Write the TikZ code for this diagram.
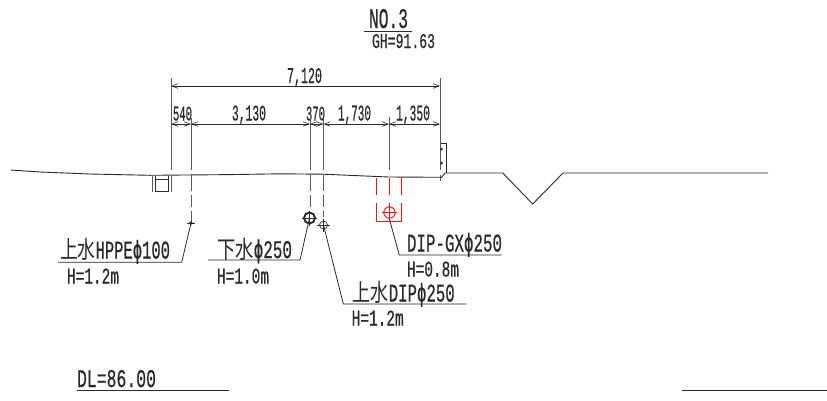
\documentclass[tikz,border=0pt]{standalone}
\usepackage{fontspec}
\setmainfont[FakeBold=0.6]{Liberation Mono}
\newfontfamily\cjkjp{Noto Sans CJK JP}
\newfontfamily\phifont[FakeBold=0.6]{DejaVu Sans Mono}
\usetikzlibrary{arrows.meta}
\newcommand\cad[3]{\resizebox{#1pt}{#2pt}{#3}}
\newcommand\cj[1]{\smash{\scalebox{1.15}[0.95]{\cjkjp #1}}}
\newcommand\ph{\smash{\phifont ϕ}}
\definecolor{ink}{HTML}{2A2A2A}
\definecolor{ext}{HTML}{5A5A5A}
\definecolor{cadred}{HTML}{FF1010}
\tikzset{
  lbl/.style={inner sep=0pt,outer sep=0pt,anchor=base west,text=ink},
  dimline/.style={draw=ink,line width=0.6pt,{Straight Barb[length=6pt,width=4.5pt]}-{Straight Barb[length=6pt,width=4.5pt]}},
  extline/.style={draw=ext,line width=0.9pt},
  ground/.style={draw=ink,line width=0.9pt},
  leader/.style={draw=ink,line width=0.8pt},
  dashpipe/.style={draw=ext,line width=0.9pt,dash pattern=on 16pt off 4pt on 12pt off 4pt on 12pt off 4pt},
  reddash/.style={draw=cadred,line width=1pt},
  pipe/.style={draw=ink,line width=0.7pt},
}
\begin{document}
\begin{tikzpicture}[x=1pt,y=-1pt]
\useasboundingbox (0,0) rectangle (827,400);
\fill[white] (0,0) rectangle (827,400);

% titles
\node[lbl] (no3) at (369,28) {\cad{39}{19}{NO.3}};
\coordinate (noa) at (364,31); \coordinate (nob) at (412,31);
\draw[leader] (noa) -- (nob);
\node[lbl] (gh) at (372,48) {\cad{63}{14}{GH=91.63}};

% dimension anchors
\coordinate (e0) at (171,86);
\coordinate (e5) at (440,86);
\coordinate (a0) at (171,124);
\coordinate (a1) at (191,124);
\coordinate (a2) at (310,124);
\coordinate (a3) at (323.5,124);
\coordinate (a4) at (389,124);
\coordinate (a5) at (440,124);

\draw[dimline] (e0) -- (e5);
\draw[dimline] (a0) -- (a1);
\draw[dimline] (a1) -- (a2);
\draw[dimline] (a2) -- (a3);
\draw[dimline] (a3) -- (a4);
\draw[dimline] (a4) -- (a5);

\node[lbl] (d7120) at (287,83) {\cad{35}{15}{7,120}};
\node[lbl] (d540) at (173,120.5) {\cad{19}{14}{540}};
\node[lbl] (d3130) at (232,120.5) {\cad{34}{15}{3,130}};
\node[lbl] (d370) at (306,120.5) {\cad{19}{14}{370}};
\node[lbl] (d1730) at (338,120.5) {\cad{33}{15}{1,730}};
\node[lbl] (d1350) at (396,120.5) {\cad{34}{15}{1,350}};

% extension lines
\coordinate (t0) at (171,78);
\coordinate (b0) at (171,170);
\coordinate (t1) at (191,118);
\coordinate (b1) at (191,170);
\coordinate (t2) at (310,118);
\coordinate (b2) at (310,170);
\coordinate (t3) at (323.5,118);
\coordinate (b3) at (323.5,170);
\coordinate (t4) at (389,117);
\coordinate (b4) at (389,170);
\coordinate (t5) at (440,78);
\coordinate (b5) at (440,170);
\draw[extline] (t0) -- (b0);
\draw[extline] (t1) -- (b1);
\draw[extline] (t2) -- (b2);
\draw[extline] (t3) -- (b3);
\draw[extline] (t4) -- (b4);
\draw[extline] (t5) -- (b5);
\draw[extline] (440,174.5) -- (440,181);

% ground
\draw[ground] (11,170) -- (40,172) -- (90,174) -- (150,175.3) -- (230,174.6) -- (280,173.8) -- (323,174.2) -- (370,176.2) -- (389,177) -- (441.7,177.3) -- (445,173) -- (502.7,173) -- (532.7,204) -- (563,173) -- (768,173);

% wall
\draw[pipe] (440.7,143) -- (446,143) -- (446,173);
\fill[ink] (441.5,149) circle (1.5pt);
\fill[ink] (441.5,163) circle (1.5pt);

% left gutter
\draw[extline] (152,176) -- (152,192);
\draw[extline] (171.7,176) -- (171.7,192);
\draw[pipe] (155.7,176) -- (155.7,191.7) -- (168.7,191.7) -- (168.7,176);
\draw[pipe] (155.7,179.3) -- (168.7,179.3);

% HPPE pipe
\coordinate (phppe) at (191,223);
\draw[dashpipe] (191,175) -- (phppe);
\fill[ink] (phppe) circle (1.8pt);
\draw[pipe] (187,223) -- (195,223);
\coordinate (hppeb) at (181.7,262.3);
\coordinate (hppea) at (58,262.3);
\draw[leader] (phppe) -- (hppeb) -- (hppea);
\node[lbl] (t_hppe) at (60,258.5) {\cad{110}{17}{\cj{上水}HPPE\ph 100}};
\node[lbl] (h_hppe) at (67,283.5) {\cad{52}{15}{H=1.2m}};

% sewer pipe
\coordinate (csew) at (309.5,218);
\draw[dashpipe] (310,175) -- (310,207);
\draw[draw=ink,line width=1.9pt] (csew) circle (5.5pt);
\draw[pipe] (302,218) -- (317,218);
\draw[pipe] (309.5,210.5) -- (309.5,225.5);
\coordinate (sewb) at (300,260);
\coordinate (sewa) at (208,260);
\draw[leader] (csew) -- (sewb) -- (sewa);
\node[lbl] (t_sew) at (217,258) {\cad{75}{17}{\cj{下水}\ph 250}};
\node[lbl] (h_sew) at (217,283.5) {\cad{52}{15}{H=1.0m}};

% water DIP
\coordinate (cwat) at (323.5,225);
\draw[dashpipe] (323.5,175) -- (323.5,217);
\draw[pipe] (cwat) circle (4pt);
\draw[pipe] (317,225) -- (330,225);
\draw[pipe] (323.5,218.5) -- (323.5,231.5);
\coordinate (watb) at (343.3,304);
\coordinate (wata) at (466.7,304);
\draw[leader] (cwat) -- (watb) -- (wata);
\node[lbl] (t_wat) at (352.7,301.5) {\cad{102}{17}{\cj{上水}DIP\ph 250}};
\node[lbl] (h_wat) at (351.7,325.5) {\cad{52}{15}{H=1.2m}};

% red DIP-GX
\coordinate (cred) at (389.5,212.5);
\draw[reddash] (376.5,178) -- (376.5,195);
\draw[reddash] (401.5,178) -- (401.5,195);
\draw[reddash] (389.5,178) -- (389.5,195);
\draw[reddash] (389.5,203) -- (389.5,219.5);
\draw[reddash] (376.5,203) -- (376.5,221.5) -- (401.5,221.5) -- (401.5,203);
\draw[reddash] (cred) circle (5.7pt);
\draw[reddash] (382,212.5) -- (397,212.5);
\coordinate (gxs) at (389.5,219.5);
\coordinate (gxb) at (399.3,255);
\coordinate (gxa) at (501.7,255);
\draw[leader] (gxs) -- (gxb) -- (gxa);
\node[lbl] (t_gx) at (407,251.5) {\cad{95}{17}{DIP-GX\ph 250}};
\node[lbl] (h_gx) at (407,276.5) {\cad{52}{15}{H=0.8m}};

% datum
\node[lbl] (dl) at (77,387) {\cad{79}{17}{DL=86.00}};
\coordinate (dla) at (77,390); \coordinate (dlb) at (229,390);
\draw[leader] (dla) -- (dlb);
\coordinate (dra) at (682,390); \coordinate (drb) at (827,390);
\draw[leader] (dra) -- (drb);
\end{tikzpicture}
\end{document}
